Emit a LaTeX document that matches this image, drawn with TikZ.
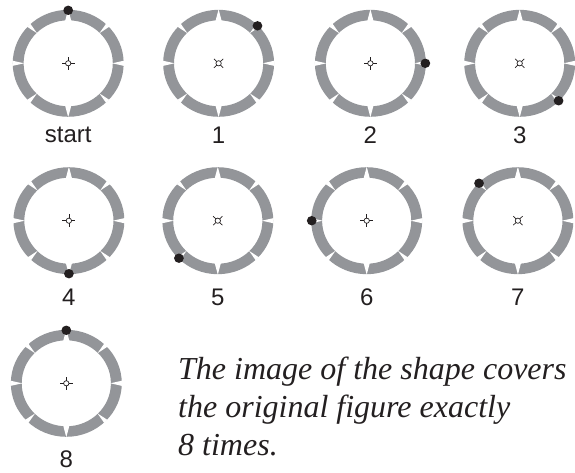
\documentclass[tikz,border=0pt]{standalone}
\usepackage{fontspec}
\setmainfont{Liberation Serif}
\setsansfont{Liberation Sans}
\usetikzlibrary{positioning}
\definecolor{ringclr}{RGB}{147,149,153}
\definecolor{inkclr}{RGB}{35,31,32}
\tikzset{
  ring/.style={fill=ringclr,even odd rule},
  notch/.style={fill=white},
  spot/.style={fill=inkclr},
  hub/.style={draw=inkclr,line width=0.7pt},
  wheelbox/.style={circle,minimum size=107pt,inner sep=0pt},
  numlbl/.style={font=\sffamily\fontsize{24}{24}\selectfont,text=inkclr,inner sep=0pt},
  note/.style={font=\itshape\fontsize{32}{32}\selectfont,text=inkclr,inner sep=0pt,anchor=base west},
}

\begin{document}
\begin{tikzpicture}[x=1pt,y=1pt]
  \useasboundingbox (0,0) rectangle (575,472);

  % one wheel per step: name/x/y/dot angle/hub angle/label gap/label
  \foreach \n/\cx/\cy/\d/\h/\g/\lab in {
      s/68.2/408.7/90/0/10/start, a/218.6/408.7/45/45/10/1,
      b/370.4/408.7/0/0/10/2,     c/519.7/408.7/-45/45/10/3,
      d/68.9/251.3/-90/0/14/4,    e/217.8/251.3/-135/45/14/5,
      f/366.7/251.3/180/0/14/6,   g/517.9/251.3/135/45/14/7,
      h/66.3/88.7/90/0/14/8}{
    \node[wheelbox] (w\n) at (\cx,\cy) {};
    \begin{scope}[shift={(\cx,\cy)},xscale=1.037]
      \fill[ring] (0,0) circle (53.5) (0,0) circle (43);
      \foreach \t in {90,270}
        \fill[notch] (\t-4:42.5) -- (\t+4:42.5) -- (\t:54) -- cycle;
      \foreach \t in {0,180}
        \fill[notch] (\t-2.8:54) -- (\t+2.8:54) -- (\t:42.5) -- cycle;
      \foreach \t in {45,135,225,315}
        \fill[notch] (\t-2.3:54) -- (\t+2.3:54) -- (\t:42.5) -- cycle;
      \fill[spot] (\d:53) circle (4.7);
      \draw[hub] (0,0) circle (2.6);
      \foreach \k in {0,90,180,270}
        \draw[hub] (\h+\k:2.6) -- (\h+\k:6.3);
    \end{scope}
    \node[numlbl,below=\g pt of w\n] (l\n) {\lab};
  }

  \node[note] (t1) at (178,93) {The image of the shape covers};
  \node[note] (t2) at (178,55) {the original figure exactly};
  \node[note] (t3) at (178,17) {8 times.};
\end{tikzpicture}
\end{document}
